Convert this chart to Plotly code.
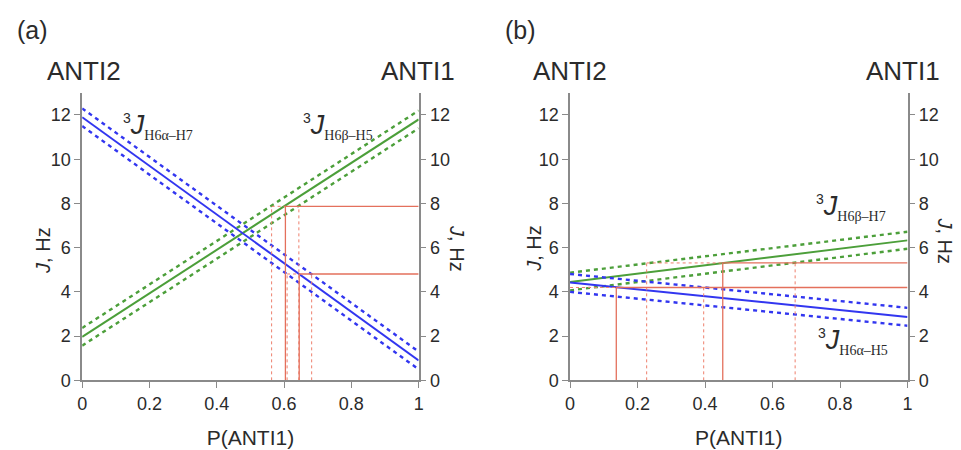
import plotly.graph_objects as go

# P(ANTI1) end points of the two-state model lines
P_ends = [0.0, 1.0]

# (a) predicted couplings (Hz) at P = 0 and P = 1, with their error bands
a_h6a_h7 = [11.9, 0.9]
a_h6a_h7_lo = [11.5, 0.5]
a_h6a_h7_hi = [12.3, 1.3]
a_h6b_h5 = [1.97, 11.8]
a_h6b_h5_lo = [1.57, 11.4]
a_h6b_h5_hi = [2.37, 12.2]

# (b) predicted couplings (Hz)
b_h6b_h7 = [4.45, 6.33]
b_h6b_h7_lo = [4.07, 5.95]
b_h6b_h7_hi = [4.87, 6.72]
b_h6a_h5 = [4.43, 2.87]
b_h6a_h5_lo = [4.0, 2.47]
b_h6a_h5_hi = [4.81, 3.28]

# measured couplings: J (Hz), solved population and its lower / upper bound
a_meas_J = [7.87, 4.81]
a_meas_P = [0.604, 0.645]
a_meas_Plo = [0.563, 0.609]
a_meas_Phi = [0.644, 0.682]

b_meas_J = [5.31, 4.20]
b_meas_P = [0.4525, 0.137]
b_meas_Plo = [0.227, 0.0]
b_meas_Phi = [0.667, 0.396]

x_ticks = [0, 0.2, 0.4, 0.6, 0.8, 1]
x_ticktext = ["0", "0.2", "0.4", "0.6", "0.8", "1"]
y_ticks = [0, 2, 4, 6, 8, 10, 12]

BLUE = "#3236f0"
GREEN = "#4c9f3a"
RED = "#e4705c"
RED_DOT = "#ee7f6c"
AXIS = "#8a8a8a"
TEXT = "#2b2b2b"
SANS = "Liberation Sans, Arial, sans-serif"
SERIF = "Liberation Serif, Times New Roman, serif"

fig = go.Figure()


def model_lines(y_mid, y_lo, y_hi, color, xa, ya):
    for ys in (y_lo, y_hi):
        fig.add_trace(go.Scatter(x=P_ends, y=ys, mode="lines", xaxis=xa, yaxis=ya,
                                 line=dict(color=color, width=2.4, dash="4px,4px"),
                                 hoverinfo="skip", showlegend=False))
    fig.add_trace(go.Scatter(x=P_ends, y=y_mid, mode="lines", xaxis=xa, yaxis=ya,
                             line=dict(color=color, width=2), hoverinfo="skip",
                             showlegend=False))


def measured_lines(Js, Ps, Plos, Phis, xa, ya):
    for J, p, plo, phi in zip(Js, Ps, Plos, Phis):
        # dotted bounds
        dx, dy = [plo, p, None, phi, phi], [J, J, None, 0, J]
        if plo > 0:
            dx += [None, plo, plo]
            dy += [None, 0, J]
        fig.add_trace(go.Scatter(x=dx, y=dy, mode="lines", xaxis=xa, yaxis=ya,
                                 line=dict(color=RED_DOT, width=1, dash="dot"),
                                 hoverinfo="skip", showlegend=False))
        # solved population and measured value
        fig.add_trace(go.Scatter(x=[p, p, 1], y=[0, J, J], mode="lines", xaxis=xa, yaxis=ya,
                                 line=dict(color=RED, width=1.3), hoverinfo="skip",
                                 showlegend=False))


measured_lines(a_meas_J, a_meas_P, a_meas_Plo, a_meas_Phi, "x", "y2")
model_lines(a_h6b_h5, a_h6b_h5_lo, a_h6b_h5_hi, GREEN, "x", "y")
model_lines(a_h6a_h7, a_h6a_h7_lo, a_h6a_h7_hi, BLUE, "x", "y")

measured_lines(b_meas_J, b_meas_P, b_meas_Plo, b_meas_Phi, "x2", "y4")
model_lines(b_h6b_h7, b_h6b_h7_lo, b_h6b_h7_hi, GREEN, "x2", "y3")
model_lines(b_h6a_h5, b_h6a_h5_lo, b_h6a_h5_hi, BLUE, "x2", "y3")

W, H = 961, 450
y_dom = [(H - 389) / H, (H - 95) / H]
xa_dom = [78 / W, 418 / W]
xb_dom = [571 / W, 912 / W]

tick_font = dict(family=SANS, size=18, color=TEXT)
common_x = dict(range=[0, 1], tickvals=x_ticks, ticktext=x_ticktext, showgrid=False,
                zeroline=False, showline=True, linecolor=AXIS, linewidth=1.5,
                ticks="outside", ticklen=6, tickcolor=AXIS, tickwidth=1.3,
                tickfont=tick_font,
                title=dict(text="P(ANTI1)", font=dict(family=SANS, size=21, color=TEXT),
                           standoff=18))
common_y = dict(range=[0, 13], tickvals=y_ticks, showgrid=False, zeroline=False,
                showline=True, linecolor=AXIS, linewidth=1.5, ticks="outside",
                ticklen=6, tickcolor=AXIS, tickwidth=1.3, tickfont=tick_font)

fig.update_layout(
    width=W, height=H, margin=dict(l=0, r=0, t=0, b=0),
    paper_bgcolor="white", plot_bgcolor="white", showlegend=False,
    xaxis=dict(domain=xa_dom, anchor="y", **common_x),
    xaxis2=dict(domain=xb_dom, anchor="y3", **common_x),
    yaxis=dict(domain=y_dom, anchor="x", side="left", **common_y),
    yaxis2=dict(domain=y_dom, anchor="x", overlaying="y", side="right", **common_y),
    yaxis3=dict(domain=y_dom, anchor="x2", side="left", **common_y),
    yaxis4=dict(domain=y_dom, anchor="x2", overlaying="y3", side="right", **common_y),
)


def px(x, y):
    return dict(x=x / W, y=1 - y / H, xref="paper", yref="paper")


def text(x, y, s, size, xanchor="center", angle=0, family=SANS):
    fig.add_annotation(text=s, showarrow=False, xanchor=xanchor, yanchor="middle",
                       textangle=angle, font=dict(family=family, size=size, color=TEXT),
                       **px(x, y))


# panel letters and conformer names
text(10, 31, "(a)", 25, "left")
text(503, 31, "(b)", 25, "left")
text(40, 73, "ANTI2", 26, "left")
text(457, 73, "ANTI1", 26, "right")
text(532, 73, "ANTI2", 26, "left")
text(947, 73, "ANTI1", 26, "right")

# J axis titles
j_title = "<i>J</i>, Hz"
text(39, 256, j_title, 20, angle=-90)
text(456, 254, j_title, 20, angle=90)
text(535, 254, j_title, 20, angle=-90)
text(950, 246, j_title, 20, angle=90)


def coupling(name):
    return ('<sup><span style="font-size:14px">3</span></sup><i>J</i>'
            '<sub><span style="font-family:Liberation Serif;font-size:14px">'
            + name + '</span></sub>')


def curve_label(xa, ya, x, y, name):
    fig.add_annotation(text=coupling(name), x=x, y=y, xref=xa, yref=ya, showarrow=False,
                       xanchor="left", yanchor="middle",
                       font=dict(family=SANS, size=27, color=TEXT))


curve_label("x", "y", 0.115, 11.5, "H6α–H7")
curve_label("x", "y", 0.650, 11.5, "H6β–H5")
curve_label("x2", "y3", 0.722, 7.8, "H6β–H7")
curve_label("x2", "y3", 0.728, 1.75, "H6α–H5")

fig.write_html("out.html")
